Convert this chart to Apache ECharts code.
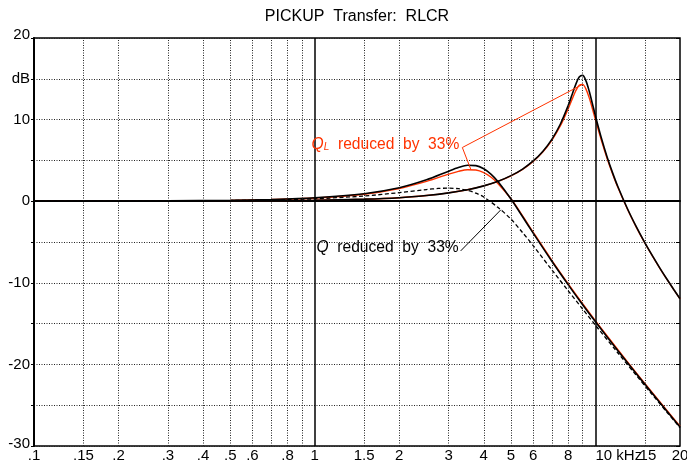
<!DOCTYPE html>
<html>
<head>
<meta charset="utf-8">
<script src="https://cdn.jsdelivr.net/npm/echarts@6/dist/echarts.min.js"></script>
<style>
  html, body { margin: 0; padding: 0; background: #fff; }
  #chart { width: 687px; height: 464px; }
</style>
</head>
<body>
<div id="chart"></div>
<script>
// Pickup transfer functions: frequency in kHz, level in dB.
const pickup = [
  [0.1, 0], [0.2, 0], [0.5, 0.03], [1, 0.11], [1.5, 0.25], [2, 0.43], [2.5, 0.70],
  [3, 1.02], [3.5, 1.40], [4, 1.88], [4.5, 2.44], [5, 3.13], [5.5, 3.94], [6, 4.93],
  [6.5, 6.13], [7, 7.61], [7.5, 9.46], [8, 11.75], [8.25, 13.04], [8.5, 14.29],
  [8.75, 15.21], [9, 15.42], [9.25, 14.75], [9.5, 13.47], [9.75, 11.95], [10, 10.43],
  [10.5, 7.71], [11, 5.42], [11.5, 3.50], [12, 1.83], [13, -0.93], [14, -3.19],
  [15, -5.11], [16, -6.77], [17, -8.26], [18, -9.60], [19, -10.82], [20, -11.95]
];
const pickupQL = [
  [0.1, 0], [0.2, 0], [0.5, 0.03], [1, 0.11], [1.5, 0.25], [2, 0.43], [2.5, 0.70],
  [3, 1.02], [3.5, 1.40], [4, 1.87], [4.5, 2.43], [5, 3.11], [5.5, 3.91], [6, 4.88],
  [6.5, 6.05], [7, 7.49], [7.5, 9.24], [8, 11.35], [8.25, 12.47], [8.5, 13.50],
  [8.75, 14.21], [9, 14.32], [9.25, 13.74], [9.5, 12.66], [9.75, 11.33], [10, 9.96],
  [10.5, 7.43], [11, 5.24], [11.5, 3.37], [12, 1.73], [13, -0.99], [14, -3.23],
  [15, -5.14], [16, -6.79], [17, -8.28], [18, -9.61], [19, -10.83], [20, -11.96]
];
const loaded = [
  [0.1, 0], [0.2, 0.02], [0.3, 0.04], [0.5, 0.11], [0.7, 0.21], [1, 0.42], [1.5, 0.92],
  [2, 1.65], [2.5, 2.62], [3, 3.68], [3.25, 4.12], [3.5, 4.40], [3.75, 4.36], [4, 3.97],
  [4.25, 3.29], [4.5, 2.38], [5, 0.26], [5.5, -1.91], [6, -3.92], [7, -7.39], [8, -10.25],
  [9, -12.68], [10, -14.78], [12, -18.30], [14, -21.19], [16, -23.64], [18, -25.78], [20, -27.68]
];
const loadedQL = [
  [0.1, 0], [0.2, 0.02], [0.3, 0.04], [0.5, 0.10], [0.7, 0.20], [1, 0.39], [1.5, 0.86],
  [2, 1.55], [2.5, 2.42], [3, 3.32], [3.25, 3.66], [3.5, 3.86], [3.75, 3.82], [4, 3.50],
  [4.25, 2.93], [4.5, 2.15], [5, 0.30], [5.5, -1.80], [6, -3.80], [7, -7.27], [8, -10.13],
  [9, -12.56], [10, -14.66], [12, -18.18], [14, -21.08], [16, -23.53], [18, -25.68], [20, -27.58]
];
const loadedQ = [
  [0.1, 0], [0.2, 0.01], [0.3, 0.03], [0.5, 0.08], [0.7, 0.15], [1, 0.29], [1.5, 0.64],
  [2, 1.05], [2.5, 1.43], [2.75, 1.56], [3, 1.60], [3.25, 1.53], [3.5, 1.33], [3.75, 0.99],
  [4, 0.51], [4.5, -0.78], [5, -2.20], [5.5, -3.85], [6, -5.45], [7, -8.44], [8, -10.99],
  [9, -13.22], [10, -15.20], [12, -18.57], [14, -21.38], [16, -23.79], [18, -25.89], [20, -27.77]
];

// Annotation leaders: [curve point, label anchor, curve point]
const qlLeader = [[3.6, 3.86], [3.355, 6.58], [9.0, 14.32]];
const qLeader = [[4.6, -1.06], [3.31, -6.09]];

// Axis ticks and labels
const xLabelValues = [0.1, 0.15, 0.2, 0.3, 0.4, 0.5, 0.6, 0.8, 1, 1.5, 2, 3, 4, 5, 6, 8, 10, 15, 20];
const xLabelTexts = ['.1', '.15', '.2', '.3', '.4', '.5', '.6', '.8', '1', '1.5', '2', '3', '4', '5', '6', '8', '10 kHz', '15', '20'];
const xMinorLines = [0.15, 0.2, 0.3, 0.4, 0.5, 0.6, 0.7, 0.8, 0.9, 1.5, 2, 3, 4, 5, 6, 7, 8, 9, 15];
const xMajorLines = [1, 10];
const yTicks = [-30, -25, -20, -15, -10, -5, 0, 5, 10, 15, 20];
const yTickLabels = ['-30', '', '-20', '', '-10', '', '0', '', '10', 'dB', '20'];

const FONT = '"Liberation Sans", Arial, Helvetica, sans-serif';
const RED = '#ff3300';
const dotted = { color: '#222', width: 1, type: [1, 1.5] };
const solid = { color: '#000', width: 1.5, type: 'solid' };

const gridLines = []
  .concat(xMinorLines.map(v => ({ xAxis: v, lineStyle: dotted })))
  .concat(xMajorLines.map(v => ({ xAxis: v, lineStyle: solid })))
  .concat([{ yAxis: 0, lineStyle: solid }]);

const xLabels = xLabelValues.map((v, i) => {
  const item = {
    xAxis: v,
    lineStyle: { color: 'rgba(0,0,0,0)', width: 1 },
    label: { show: true, position: 'start', distance: 2, formatter: xLabelTexts[i] }
  };
  if (xLabelTexts[i] === '10 kHz') item.label.align = 'left';
  if (xLabelTexts[i] === '15') item.label.formatter = '{p|15}';
  return item;
});

function yLabel(v) {
  const text = yTickLabels[yTicks.indexOf(v)] || '';
  if (v === 20) return '{top|' + text + '}';
  if (v === -30) return '{bot|' + text + '}';
  return text;
}

function leaderData(points, labelIndex, label) {
  return points.map((p, i) => i === labelIndex ? { value: p, label: label } : p);
}

const chart = echarts.init(document.getElementById('chart'), null, { renderer: 'canvas' });
chart.setOption({
  animation: false,
  backgroundColor: '#fff',
  title: {
    text: 'PICKUP  Transfer:  RLCR',
    left: 357, top: 9, textAlign: 'center', padding: 0,
    textStyle: { fontFamily: FONT, fontSize: 16, fontWeight: 'normal', color: '#000' }
  },
  grid: { left: 34, right: 7, top: 38, bottom: 18, show: true, borderColor: '#000', borderWidth: 1.5 },
  xAxis: {
    type: 'log', logBase: 10, min: 0.1, max: 20,
    axisLine: { show: true, lineStyle: { color: '#000', width: 2 } },
    axisTick: { show: false }, axisLabel: { show: false },
    splitLine: { show: false }, minorTick: { show: false }, minorSplitLine: { show: false }
  },
  yAxis: [
    {
      type: 'value', min: -30, max: 20, interval: 5,
      axisLine: { show: true, lineStyle: { color: '#000', width: 2 } },
      axisTick: { show: true, length: 3, lineStyle: { color: '#000', width: 1 } },
      axisLabel: {
        margin: 4, fontFamily: FONT, fontSize: 15, color: '#000',
        formatter: yLabel,
        rich: {
          top: { fontFamily: FONT, fontSize: 15, color: '#000', padding: [0, 0, 7, 0] },
          bot: { fontFamily: FONT, fontSize: 15, color: '#000', padding: [0, 0, 4, 0] }
        }
      },
      splitLine: { show: true, lineStyle: dotted }
    },
    {
      type: 'value', min: -30, max: 20, interval: 5, position: 'right',
      axisLine: { show: false },
      axisTick: { show: true, inside: true, length: 4, lineStyle: { color: '#000', width: 1 } },
      axisLabel: { show: false }, splitLine: { show: false }
    }
  ],
  series: [
    {
      type: 'line', data: [], z: 1, silent: true,
      markLine: {
        silent: true, symbol: ['none', 'none'], animation: false,
        label: { show: false },
        data: gridLines
      }
    },
    {
      type: 'line', data: [], z: 1, silent: true,
      markLine: {
        silent: true, symbol: ['none', 'none'], animation: false,
        label: {
          show: true, fontFamily: FONT, fontSize: 15, color: '#000',
          rich: { p: { fontFamily: FONT, fontSize: 15, color: '#000', padding: [0, 0, 0, 6] } }
        },
        data: xLabels
      }
    },
    { name: 'pickup QL', type: 'line', data: pickupQL, smooth: 0.3, showSymbol: false, z: 3,
      lineStyle: { color: RED, width: 1.4 } },
    { name: 'loaded QL', type: 'line', data: loadedQL, smooth: 0.3, showSymbol: false, z: 3,
      lineStyle: { color: RED, width: 1.4 } },
    { name: 'pickup', type: 'line', data: pickup, smooth: 0.3, showSymbol: false, z: 4,
      lineStyle: { color: '#000', width: 1.6 } },
    { name: 'loaded', type: 'line', data: loaded, smooth: 0.3, showSymbol: false, z: 4,
      lineStyle: { color: '#000', width: 1.6 } },
    { name: 'loaded Q', type: 'line', data: loadedQ, smooth: 0.3, showSymbol: false, z: 4,
      lineStyle: { color: '#000', width: 1.3, type: [4, 2.5] } },
    {
      name: 'QL note', type: 'line', z: 5, symbol: 'circle', symbolSize: 0, showSymbol: true,
      lineStyle: { color: RED, width: 1 }, itemStyle: { color: RED },
      data: leaderData(qlLeader, 1, {
        show: true, position: 'left', distance: 3, offset: [0, -3],
        fontFamily: FONT, fontSize: 15.6, color: RED,
        formatter: '{q|Q}{l|L}  reduced  by  33%',
        rich: {
          q: { fontFamily: FONT, fontSize: 15.6, fontStyle: 'italic', color: RED },
          l: { fontFamily: FONT, fontSize: 10, fontStyle: 'italic', color: RED, padding: [6, 0, 0, 0] }
        }
      })
    },
    {
      name: 'Q note', type: 'line', z: 5, symbol: 'circle', symbolSize: 0, showSymbol: true,
      lineStyle: { color: '#000', width: 1 }, itemStyle: { color: '#000' },
      data: leaderData(qLeader, 1, {
        show: true, position: 'left', distance: 2, offset: [0, -3],
        fontFamily: FONT, fontSize: 15.6, color: '#000',
        formatter: '{q|Q}  reduced  by  33%',
        rich: {
          q: { fontFamily: FONT, fontSize: 15.6, fontStyle: 'italic', color: '#000' }
        }
      })
    }
  ]
});
</script>
</body>
</html>
